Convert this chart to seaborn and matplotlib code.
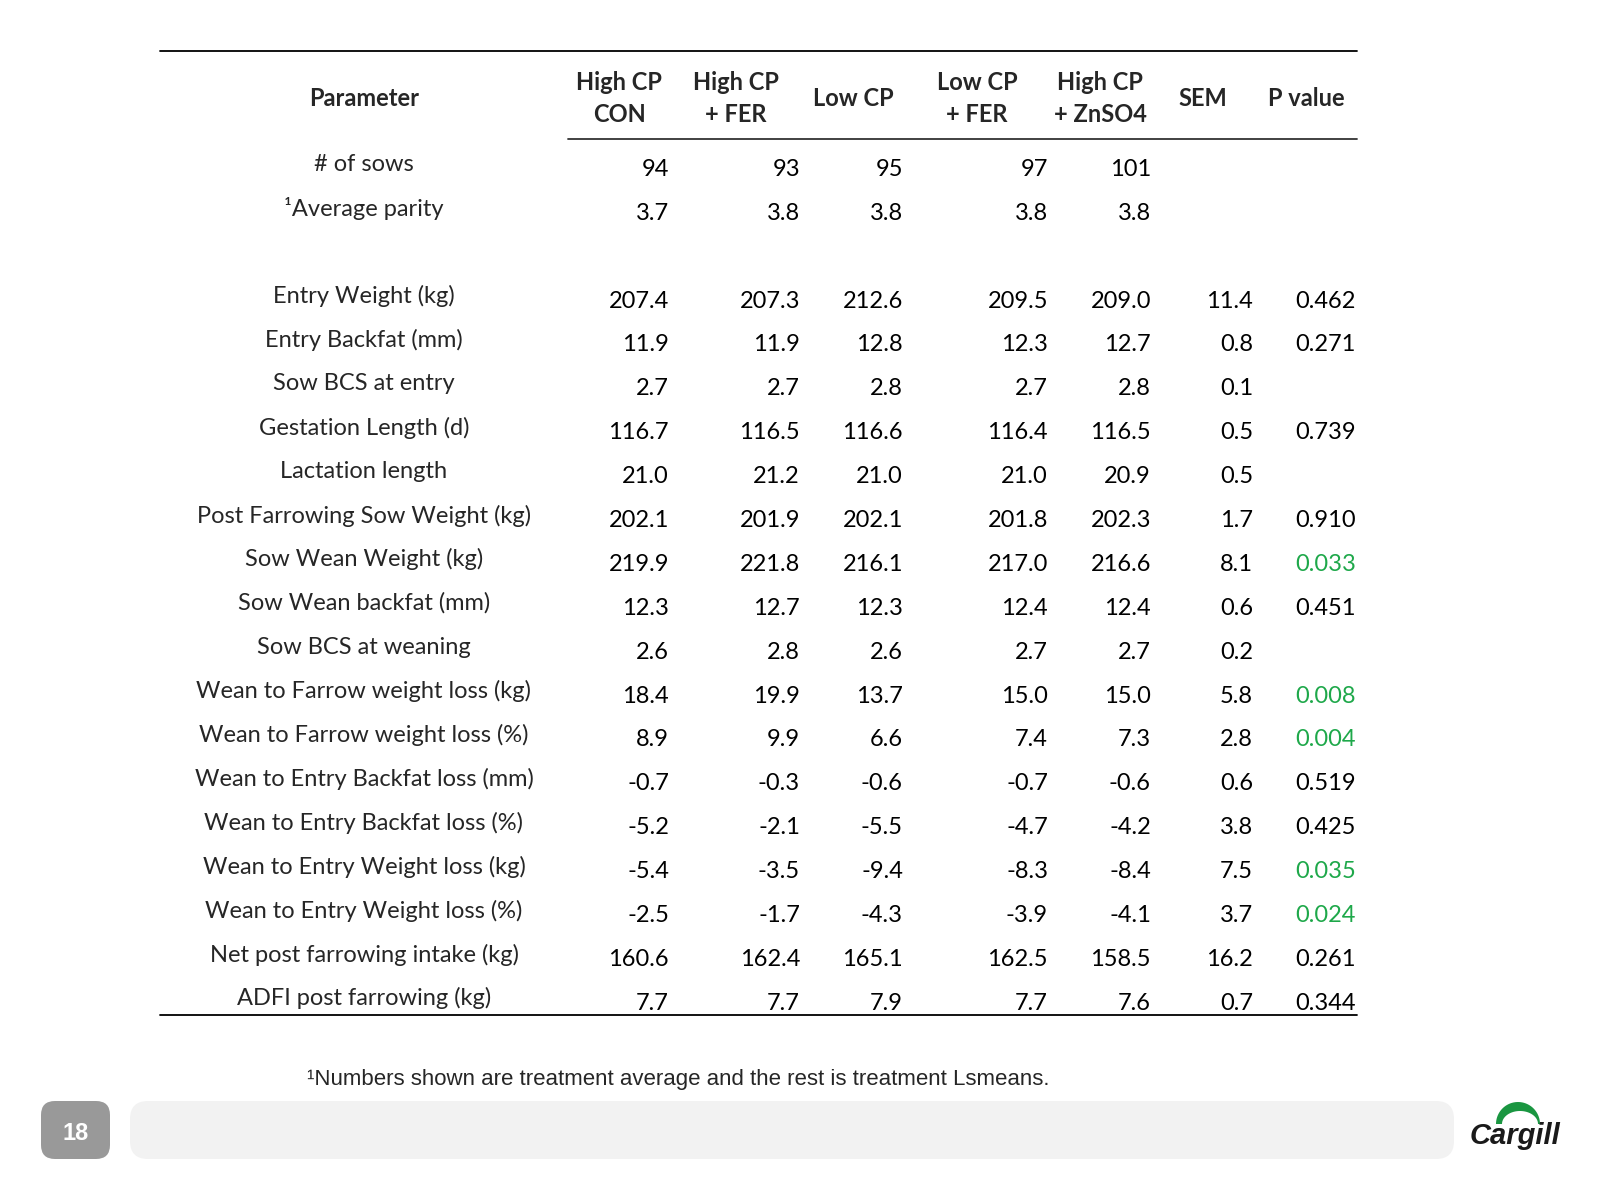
import matplotlib
matplotlib.use("Agg")
import matplotlib.pyplot as plt
from matplotlib.patches import FancyBboxPatch, Polygon
import numpy as np
import pandas as pd
import seaborn as sns

# table content
parameters = [
    "# of sows", "¹Average parity", "",
    "Entry Weight (kg)", "Entry Backfat (mm)", "Sow BCS at entry",
    "Gestation Length (d)", "Lactation length", "Post Farrowing Sow Weight (kg)",
    "Sow Wean Weight (kg)", "Sow Wean backfat (mm)", "Sow BCS at weaning",
    "Wean to Farrow weight loss (kg)", "Wean to Farrow weight loss (%)",
    "Wean to Entry Backfat loss (mm)", "Wean to Entry Backfat loss (%)",
    "Wean to Entry Weight loss (kg)", "Wean to Entry Weight loss (%)",
    "Net post farrowing intake (kg)", "ADFI post farrowing (kg)",
]
high_cp_con = ["94", "3.7", "", "207.4", "11.9", "2.7", "116.7", "21.0", "202.1", "219.9",
               "12.3", "2.6", "18.4", "8.9", "-0.7", "-5.2", "-5.4", "-2.5", "160.6", "7.7"]
high_cp_fer = ["93", "3.8", "", "207.3", "11.9", "2.7", "116.5", "21.2", "201.9", "221.8",
               "12.7", "2.8", "19.9", "9.9", "-0.3", "-2.1", "-3.5", "-1.7", "162.4", "7.7"]
low_cp = ["95", "3.8", "", "212.6", "12.8", "2.8", "116.6", "21.0", "202.1", "216.1",
          "12.3", "2.6", "13.7", "6.6", "-0.6", "-5.5", "-9.4", "-4.3", "165.1", "7.9"]
low_cp_fer = ["97", "3.8", "", "209.5", "12.3", "2.7", "116.4", "21.0", "201.8", "217.0",
              "12.4", "2.7", "15.0", "7.4", "-0.7", "-4.7", "-8.3", "-3.9", "162.5", "7.7"]
high_cp_zn = ["101", "3.8", "", "209.0", "12.7", "2.8", "116.5", "20.9", "202.3", "216.6",
              "12.4", "2.7", "15.0", "7.3", "-0.6", "-4.2", "-8.4", "-4.1", "158.5", "7.6"]
sem = ["", "", "", "11.4", "0.8", "0.1", "0.5", "0.5", "1.7", "8.1",
       "0.6", "0.2", "5.8", "2.8", "0.6", "3.8", "7.5", "3.7", "16.2", "0.7"]
p_value = ["", "", "", "0.462", "0.271", "", "0.739", "", "0.910", "0.033",
           "0.451", "", "0.008", "0.004", "0.519", "0.425", "0.035", "0.024", "0.261", "0.344"]
headers = ["High CP\nCON", "High CP\n+ FER", "Low CP", "Low CP\n+ FER", "High CP\n+ ZnSO4", "SEM", "P value"]

df = pd.DataFrame({
    "Parameter": parameters, headers[0]: high_cp_con, headers[1]: high_cp_fer,
    headers[2]: low_cp, headers[3]: low_cp_fer, headers[4]: high_cp_zn,
    headers[5]: sem, headers[6]: p_value,
})

sns.set_theme(style="white")
plt.rcParams['font.family'] = ['Lato', 'DejaVu Sans']

fig = plt.figure(figsize=(16, 12), dpi=100)
ax = fig.add_axes([0, 0, 1, 1])
ax.set_xlim(0, 1600)
ax.set_ylim(1200, 0)
ax.axis('off')

FS = 17
GREEN = '#1ea84a'

# layout (pixel coords)
header_centers = [619, 736, 853, 977, 1100, 1203, 1306]
right_edges = [669, 800, 903, 1048, 1151, 1253, 1356]
label_x = 364
row_y = np.zeros(len(parameters))
row_y[:2] = [169.5, 213.5]
row_y[3:] = 301 + np.arange(len(parameters) - 3) * 43.9

# rules
ax.plot([160, 1357], [51, 51], color='black', lw=1.3)
ax.plot([568, 1357], [139, 139], color='#333333', lw=1.3)
ax.plot([160, 1357], [1015, 1015], color='black', lw=1.3)

# header
ax.text(label_x, 99, "Parameter", ha='center', va='center', fontsize=FS, fontweight='bold')
for h, cx in zip(headers, header_centers):
    lines = h.split("\n")
    if len(lines) == 2:
        ax.text(cx, 83, lines[0], ha='center', va='center', fontsize=FS, fontweight='bold')
        ax.text(cx, 115, lines[1], ha='center', va='center', fontsize=FS, fontweight='bold')
    else:
        ax.text(cx, 99, lines[0], ha='center', va='center', fontsize=FS, fontweight='bold')

# body
for i, row in df.iterrows():
    if not row["Parameter"]:
        continue
    y = row_y[i]
    ax.text(label_x, y - 5, row["Parameter"], ha='center', va='center', fontsize=FS)
    for h, rx in zip(headers, right_edges):
        val = row[h]
        if not val:
            continue
        color = 'black'
        if h == "P value" and float(val) < 0.05:
            color = GREEN
        ax.text(rx, y, val, ha='right', va='center', fontsize=FS, color=color)

# footnote
ax.text(307, 1079, "¹Numbers shown are treatment average and the rest is treatment Lsmeans.",
        ha='left', va='center', fontsize=16, family=['Liberation Sans', 'DejaVu Sans'])

# footer bar
ax.add_patch(FancyBboxPatch((130, 1101), 1324, 58, boxstyle="round,pad=0,rounding_size=18",
                            facecolor='#f2f2f2', edgecolor='none'))
ax.add_patch(FancyBboxPatch((41, 1101), 69, 58, boxstyle="round,pad=0,rounding_size=14",
                            facecolor='#999999', edgecolor='none'))
ax.text(75.5, 1134, "18", ha='center', va='center', fontsize=17, fontweight='bold',
        color='white', family=['Liberation Sans', 'DejaVu Sans'])

# logo
t = np.linspace(0, np.pi, 40)
outer = np.column_stack([1518 + 22 * np.cos(t), 1124 - 22 * np.sin(t)])
inner = np.column_stack([1518 + 18 * np.cos(t[::-1]) + 2, 1124 - 13 * np.sin(t[::-1])])
ax.add_patch(Polygon(np.vstack([outer, inner]), closed=True, facecolor='#1a9641', edgecolor='none'))
ax.text(1515, 1136, "Cargill", ha='center', va='center', fontsize=21, fontweight='bold',
        fontstyle='italic', color='#1a1a1a', family=['Liberation Sans Narrow', 'Liberation Sans', 'DejaVu Sans'])

fig.savefig("out.png", dpi=100)
